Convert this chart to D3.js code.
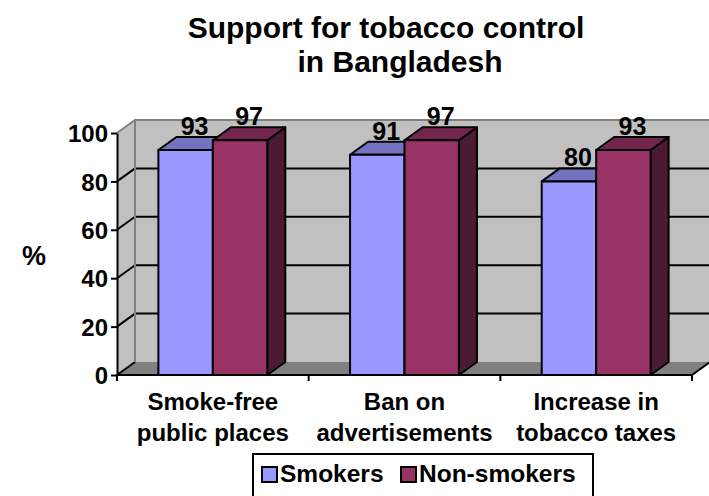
<!DOCTYPE html>
<html>
<head>
<meta charset="utf-8">
<script src="https://cdn.jsdelivr.net/npm/d3@7"></script>
<style>
  body { margin: 0; background: #fff; }
  svg { display: block; }
  text { font-family: "Liberation Sans", Arial, Helvetica, sans-serif; font-weight: bold; fill: #000; }
</style>
</head>
<body>
<svg id="chart" width="709" height="496"></svg>
<script>
// Chart data
const titleLines = ["Support for tobacco control", "in Bangladesh"];
const categories = ["Smoke-free\npublic places", "Ban on\nadvertisements", "Increase in\ntobacco taxes"];
const series = ["Smokers", "Non-smokers"];
const smokers = [93, 91, 80];
const nonSmokers = [97, 97, 93];
const yTicks = [0, 20, 40, 60, 80, 100];
const yLabel = "%";

const values = { "Smokers": smokers, "Non-smokers": nonSmokers };
const colors = {
  "Smokers":     { front: "#9999ff", top: "#7373bf", side: "#4d4d80" },
  "Non-smokers": { front: "#993366", top: "#73264d", side: "#4d1a33" }
};

const svg = d3.select("#chart");

// Front plane of the 3-D plot box, plus the depth offset toward the back wall
const plot = { left: 117, right: 692, bottom: 375, top: 133 };
const dx = 18, dy = -13;

const y = d3.scaleLinear().domain([0, 100]).range([plot.bottom, plot.top]);
const x0 = d3.scaleBand().domain(categories).range([plot.left, plot.right]);
const x1 = d3.scaleBand().domain(series).range([0, x0.bandwidth()]).paddingOuter(0.76).paddingInner(0);

// Walls and floor
const wall = svg.append("g");
wall.append("rect")
  .attr("x", plot.left + dx).attr("y", y(100) + dy)
  .attr("width", plot.right - plot.left + 10).attr("height", y(0) - y(100))
  .attr("fill", "#c0c0c0");
wall.append("polygon")
  .attr("points", [[plot.left, y(100)], [plot.left + dx, y(100) + dy], [plot.left + dx, y(0) + dy], [plot.left, y(0)]].join(" "))
  .attr("fill", "#c0c0c0");
wall.append("polygon")
  .attr("points", [[plot.left, y(0)], [plot.right, y(0)], [plot.right + dx, y(0) + dy], [plot.left + dx, y(0) + dy]].join(" "))
  .attr("fill", "#808080");

// Gridlines on the back wall and the diagonals on the side wall
const grid = yTicks.filter(v => v > 0 && v < 100);
wall.selectAll("line.gb").data(grid).join("line")
  .attr("x1", plot.left + dx).attr("x2", 709)
  .attr("y1", d => y(d) + dy).attr("y2", d => y(d) + dy)
  .attr("stroke", "#000").attr("stroke-width", 2);
wall.selectAll("line.gs").data(yTicks.filter(v => v < 100)).join("line")
  .attr("x1", plot.left).attr("y1", d => y(d))
  .attr("x2", plot.left + dx).attr("y2", d => y(d) + dy)
  .attr("stroke", "#000").attr("stroke-width", 2);
// wall outline (top edge and back corner)
wall.append("path")
  .attr("d", `M${plot.left},${y(100)}L${plot.left + dx},${y(100) + dy}L709,${y(100) + dy}M${plot.left + dx},${y(100) + dy}L${plot.left + dx},${y(0) + dy}`)
  .attr("fill", "none").attr("stroke", "#808080").attr("stroke-width", 2);

// Bars drawn as boxes: side, top, front
const bars = svg.append("g");
categories.forEach((cat, i) => {
  series.forEach(s => {
    const v = values[s][i];
    const bx = x0(cat) + x1(s), w = x1.bandwidth();
    const yt = y(v), yb = y(0);
    const c = colors[s];
    const g = bars.append("g").attr("stroke", "#000").attr("stroke-width", 2).attr("stroke-linejoin", "round");
    g.append("polygon")
      .attr("points", [[bx + w, yt], [bx + w + dx, yt + dy], [bx + w + dx, yb + dy], [bx + w, yb]].join(" "))
      .attr("fill", c.side);
    g.append("polygon")
      .attr("points", [[bx, yt], [bx + dx, yt + dy], [bx + w + dx, yt + dy], [bx + w, yt]].join(" "))
      .attr("fill", c.top);
    g.append("rect")
      .attr("x", bx).attr("y", yt).attr("width", w).attr("height", yb - yt)
      .attr("fill", c.front);
    bars.append("text")
      .attr("x", bx + w / 2 + dx / 2).attr("y", yt + dy - 2)
      .attr("text-anchor", "middle").attr("font-size", 25)
      .text(v);
  });
});

// Value axis
const yAxis = svg.append("g")
  .attr("transform", `translate(${plot.left},0)`)
  .call(d3.axisLeft(y).tickValues(yTicks).tickSize(6).tickSizeOuter(0).tickPadding(3));
yAxis.select(".domain").attr("stroke", "#000").attr("stroke-width", 2);
yAxis.selectAll(".tick line").attr("stroke", "#000").attr("stroke-width", 2);
yAxis.selectAll(".tick text").attr("font-size", 24).attr("font-family", null).attr("dy", "0.36em");

// Category axis: baseline with ticks at band boundaries
const xAxis = svg.append("g");
xAxis.append("line")
  .attr("x1", plot.left).attr("x2", plot.right)
  .attr("y1", y(0)).attr("y2", y(0))
  .attr("stroke", "#000").attr("stroke-width", 2);
xAxis.append("line")
  .attr("x1", plot.right).attr("y1", y(0)).attr("x2", plot.right + dx).attr("y2", y(0) + dy)
  .attr("stroke", "#000").attr("stroke-width", 2);
const bounds = categories.map(c => x0(c)).concat([plot.right]);
xAxis.selectAll("line.tk").data(bounds).join("line")
  .attr("x1", d => d).attr("x2", d => d)
  .attr("y1", y(0)).attr("y2", y(0) + 6)
  .attr("stroke", "#000").attr("stroke-width", 2);
categories.forEach(cat => {
  const t = xAxis.append("text")
    .attr("text-anchor", "middle").attr("font-size", 24)
    .attr("x", x0(cat) + x0.bandwidth() / 2).attr("y", 410);
  cat.split("\n").forEach((ln, k) => {
    t.append("tspan").attr("x", x0(cat) + x0.bandwidth() / 2).attr("dy", k ? 31 : 0).text(ln);
  });
});

// Axis title
svg.append("text").attr("x", 34).attr("y", 265).attr("text-anchor", "middle").attr("font-size", 27).text(yLabel);

// Chart title
const titleX = [386, 400];
const title = svg.append("text").attr("text-anchor", "middle").attr("font-size", 30);
titleLines.forEach((ln, k) => {
  title.append("tspan").attr("x", titleX[k]).attr("y", 38 + k * 34).text(ln);
});

// Legend
const legend = svg.append("g");
legend.append("rect").attr("x", 253).attr("y", 454).attr("width", 340).attr("height", 60)
  .attr("fill", "#fff").attr("stroke", "#000").attr("stroke-width", 2);
const legendX = [262, 401];
series.forEach((s, k) => {
  legend.append("rect").attr("x", legendX[k]).attr("y", 467).attr("width", 15).attr("height", 15)
    .attr("fill", colors[s].front).attr("stroke", "#000").attr("stroke-width", 2);
  legend.append("text").attr("x", legendX[k] + 18).attr("y", 482).attr("font-size", 24.5).text(s);
});
</script>
</body>
</html>
